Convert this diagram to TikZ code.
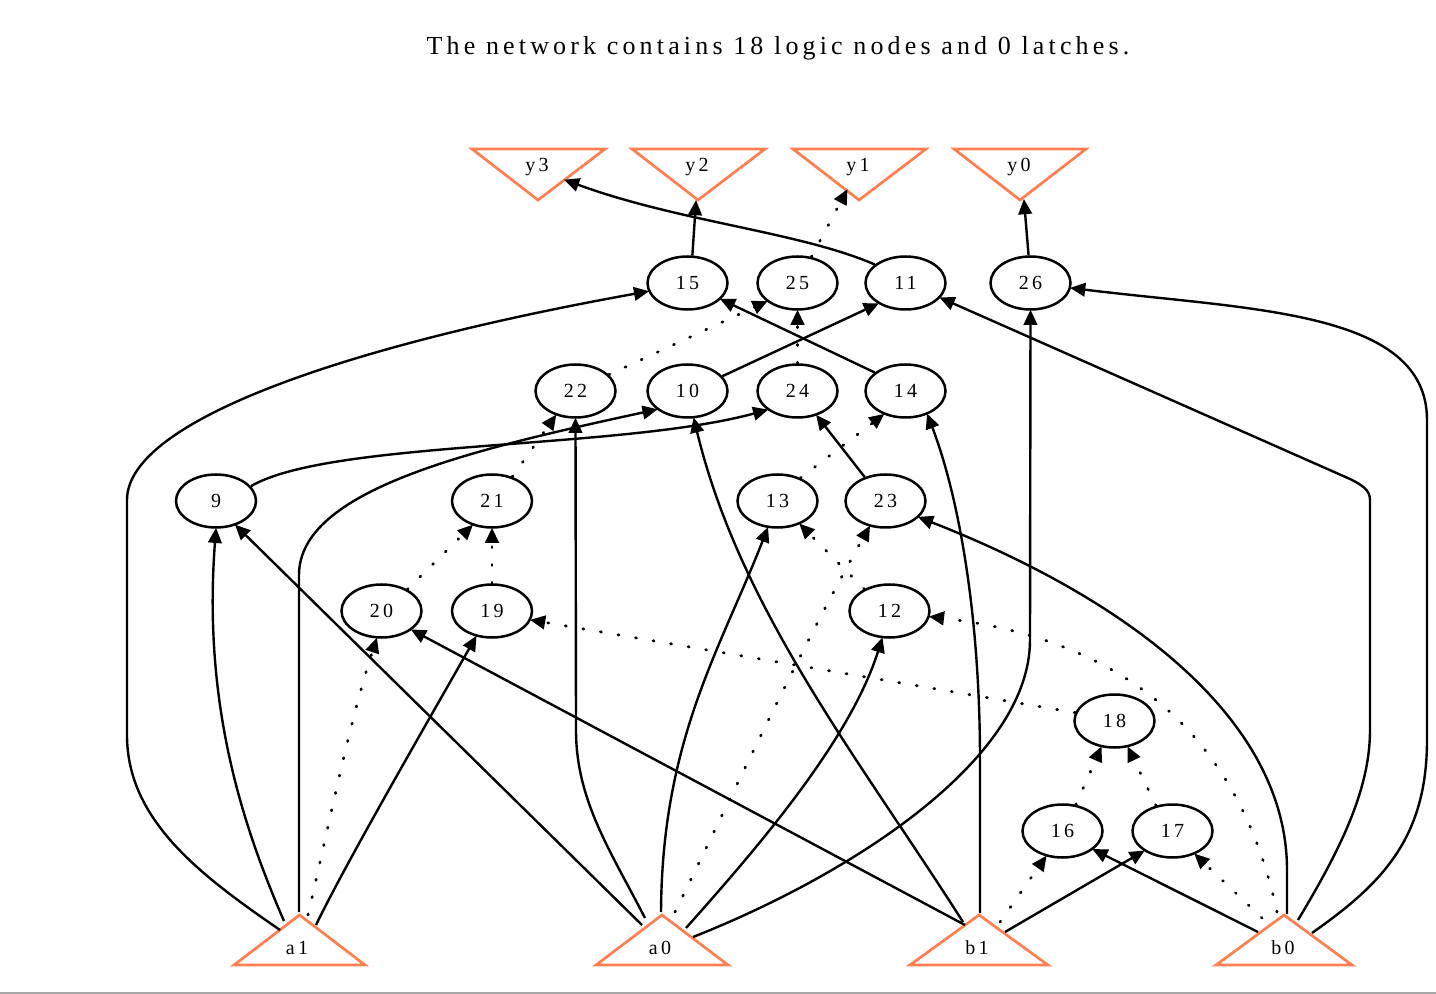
\documentclass[tikz,border=0pt]{standalone}
\usepackage{fontspec}
\usetikzlibrary{shapes.geometric,arrows.meta}
\newfontfamily\lblfont[LetterSpace=16]{Liberation Serif}
\definecolor{coral}{HTML}{FF7F50}
\tikzset{
  every node/.style={font=\lblfont\fontsize{10}{12}\selectfont},
  ell/.style={ellipse,draw=black,line width=1.25pt,minimum width=40pt,minimum height=26.5pt,inner sep=0pt},
  lbl/.style={inner sep=0pt},
  tri/.style={draw=coral,line width=1.35pt,line join=miter},
  ed/.style={line width=1.2pt,-{Triangle[length=7.6pt,width=6.8pt]},shorten >=-0.5pt},
  dt/.style={ed,line cap=round,dash pattern=on 0.5pt off 8.4pt,line width=1.4pt},
}
\begin{document}
\begin{tikzpicture}[x=0.5pt,y=-0.5pt]
\useasboundingbox (0,0) rectangle (1436,994);
\draw[gray!70,line width=1pt] (0,993) -- (1436,993);
\node[lbl,font=\lblfont\fontsize{13}{15}\selectfont] (title) at (778,48) {The network contains 18 logic nodes and 0 latches.};
% triangles
\draw[tri] (472,149) -- (605,149) -- (538,200) -- cycle;
\draw[tri] (632,149) -- (765,149) -- (698,200) -- cycle;
\draw[tri] (793,149) -- (926,149) -- (859,200) -- cycle;
\draw[tri] (954,149) -- (1086,149) -- (1020,200) -- cycle;
\draw[tri] (234,965) -- (365,965) -- (299.5,915) -- cycle;
\draw[tri] (596,965) -- (728,965) -- (662,915) -- cycle;
\draw[tri] (910,965) -- (1048,965) -- (979,915) -- cycle;
\draw[tri] (1216,965) -- (1352,965) -- (1284,915) -- cycle;
\node[lbl] (y3) at (537,167) {y3};
\node[lbl] (y2) at (697,167) {y2};
\node[lbl] (y1) at (858,167) {y1};
\node[lbl] (y0) at (1019,167) {y0};
\node[lbl] (a1) at (297,948) {a1};
\node[lbl] (a0) at (660,948) {a0};
\node[lbl] (b1) at (977,948) {b1};
\node[lbl] (b0) at (1283,948) {b0};
% ellipses
\foreach \n/\x/\y in {15/687.5/283,25/797.5/283,11/905.5/283,26/1030.5/283,22/575.5/391,10/687.5/391,24/797.5/391,14/905.5/391,9/216/501,21/492/501,13/777.5/501,23/885.5/501,20/381.5/611,19/492/611,12/889.5/611,18/1114.5/721,16/1062.5/831,17/1172.5/831}
  \node[ell] (n\n) at (\x,\y) {\n};
% free ends on the triangles
\coordinate (py3) at (565,180);
\coordinate (py2) at (696,201);
\coordinate (py1) at (847,190);
\coordinate (py0) at (1024,200);
\coordinate (a1A) at (280,930);
\coordinate (a1B) at (284,921);
\coordinate (a1C) at (299,912);
\coordinate (a1D) at (308,915);
\coordinate (a1E) at (316,925);
\coordinate (a0A) at (642,925);
\coordinate (a0B) at (645,918);
\coordinate (a0C) at (661,912);
\coordinate (a0D) at (675,912);
\coordinate (a0E) at (686,928);
\coordinate (a0F) at (693,937);
\coordinate (b1A) at (963,922);
\coordinate (b1B) at (980,913);
\coordinate (b1C) at (965,925);
\coordinate (b1D) at (1000,922);
\coordinate (b1E) at (1005,932);
\coordinate (b0A) at (1258,932);
\coordinate (b0B) at (1262,918);
\coordinate (b0C) at (1277,912);
\coordinate (b0D) at (1287,914);
\coordinate (b0E) at (1298,920);
\coordinate (b0F) at (1312,933);
% solid connectors
\draw[ed] (n11.149) .. controls (800,232) and (680,222) .. (py3);
\draw[ed] (n15.80) -- (py2);
\draw[ed] (n26.94) -- (py0);
\draw[ed] (n10.23) -- (n11.217);
\draw[ed] (n14.149) -- (n15.334);
\draw[ed] (a1A) .. controls (200,875) and (127,820) .. (127,735) -- (127,500) .. controls (127,420) and (350,345) .. (n15.192);
\draw[ed] (a1B) .. controls (240,820) and (203,700) .. (n9.270);
\draw[ed] (n9.23) .. controls (330,440) and (620,450) .. (n24.212);
\draw[ed] (a1C) -- (299,575) .. controls (299,490) and (470,450) .. (n10.211);
\draw[ed] (a1E) .. controls (345,865) and (420,735) .. (n19.238);
\draw[ed] (a0A) -- (n9.309);
\draw[ed] (a0B) .. controls (610,850) and (576,800) .. (576,730) -- (n22.270);
\draw[ed] (a0C) .. controls (662,740) and (720,650) .. (n13.250);
\draw[ed] (a0E) .. controls (760,845) and (850,740) .. (n12.255);
\draw[ed] (a0F) .. controls (850,875) and (1030,760) .. (1030,640) -- (n26.270);
\draw[ed] (b1A) .. controls (860,760) and (740,610) .. (n10.283);
\draw[ed] (b1B) -- (980,760) .. controls (980,620) and (960,500) .. (n14.313);
\draw[ed] (b1C) -- (n20.328);
\draw[ed] (b1E) -- (n17.215);
\draw[ed] (b0A) -- (n16.329);
\draw[ed] (b0D) -- (1287,870) .. controls (1287,720) and (1130,600) .. (n23.334);
\draw[ed] (b0E) .. controls (1340,850) and (1370,790) .. (1370,730) -- (1370,500) .. controls (1370,490) and (1362,485) .. (1350,479) -- (n11.337);
\draw[ed] (b0F) .. controls (1380,885) and (1427,840) .. (1427,740) -- (1427,420) .. controls (1427,310) and (1250,310) .. (n26.353);
\draw[ed] (n23.131) -- (n24.308);
% dotted connectors
\draw[dt] (n25.62) -- (py1);
\draw[dt] (n22.26) -- (n25.211);
\draw[dt] (n24.90) -- (n25.270);
\draw[dt] (a1D) .. controls (330,820) and (350,720) .. (n20.260);
\draw[dt] (a0D) .. controls (730,800) and (800,650) .. (n23.238);
\draw[dt] (b1D) -- (n16.237);
\draw[dt] (b0B) -- (n17.314);
\draw[dt] (b0C) .. controls (1240,740) and (1130,640) .. (n12.352);
\draw[dt] (n18.168) -- (n19.347);
\draw[dt] (n16.63) -- (n18.243);
\draw[dt] (n17.123) -- (n18.297);
\draw[dt] (n19.90) -- (n21.270);
\draw[dt] (n20.40) -- (n21.231);
\draw[dt] (n21.50) -- (n22.231);
\draw[dt] (n13.45) -- (n14.227);
\draw[dt] (n12.139) -- (n13.314);
\end{tikzpicture}
\end{document}
